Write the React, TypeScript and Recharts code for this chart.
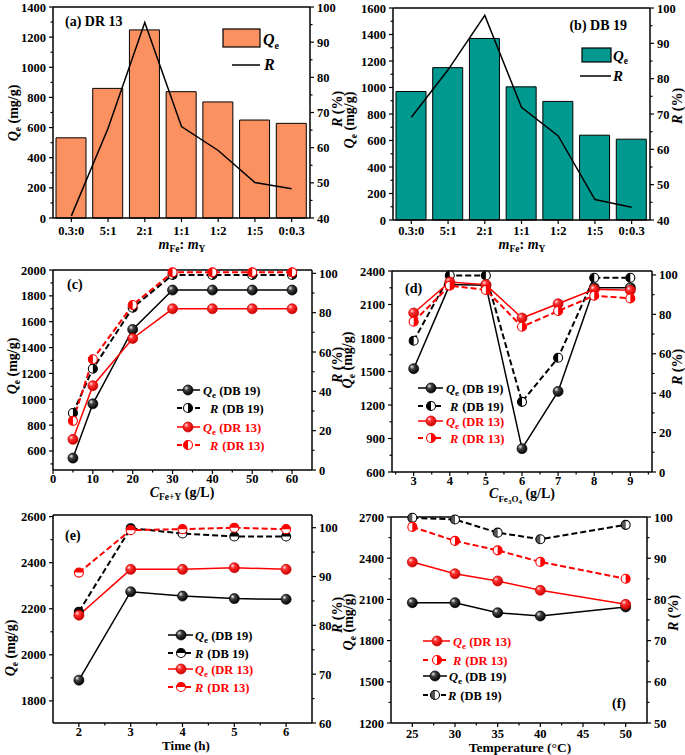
import React from 'react';
import { ComposedChart, Bar, Line, XAxis, YAxis, ReferenceLine } from 'recharts';

const FONT = '"Liberation Serif", "Times New Roman", serif';

// (a), (b) Fe:Y mass ratio
const ratioLabels = ['0.3:0', '5:1', '2:1', '1:1', '1:2', '1:5', '0:0.3'];
const qeRatioDR13 = [532, 860, 1248, 838, 770, 650, 628];
const rRatioDR13 = [40.6, 65.5, 95.6, 66, 59.2, 50.1, 48.3];
const qeRatioDB19 = [970, 1150, 1370, 1005, 895, 640, 610];
const rRatioDB19 = [69.1, 82.5, 97.9, 71.9, 63.8, 45.8, 43.6];

// (c) Fe+Y dosage
const doseFeY = [5, 10, 20, 30, 40, 50, 60];
const qeDoseDB19 = [545, 965, 1540, 1845, 1845, 1845, 1845];
const rDoseDB19 = [29, 51.5, 82.5, 99.2, 99.2, 99.2, 99.2];
const qeDoseDR13 = [690, 1105, 1470, 1700, 1700, 1700, 1700];
const rDoseDR13 = [25, 56.3, 83.9, 100.5, 100.5, 100.5, 100.5];

// (d) Fe3O4 dosage
const doseFe3O4 = [3, 4, 5, 6, 7, 8, 9];
const qeFeDB19 = [1525, 2278, 2272, 809, 1322, 2251, 2251];
const rFeDB19 = [66.6, 99.7, 99.7, 35.6, 58, 98.6, 98.6];
const qeFeDR13 = [2024, 2302, 2278, 1979, 2107, 2236, 2227];
const rFeDR13 = [76.3, 94.6, 92.4, 73.7, 81.7, 89.5, 88.1];

// (e) time
const timeH = [2, 3, 4, 5, 6];
const qeTimeDB19 = [1890, 2274, 2255, 2244, 2241];
const rTimeDB19 = [82.8, 99.9, 98.8, 98.2, 98.2];
const qeTimeDR13 = [2172, 2371, 2371, 2378, 2371];
const rTimeDR13 = [90.8, 99.5, 99.7, 100, 99.7];

// (f) temperature
const tempC = [25, 30, 35, 40, 50];
const qeTempDR13 = [2372, 2287, 2234, 2166, 2064];
const rTempDR13 = [97.6, 94.2, 91.9, 89.1, 85.0];
const qeTempDB19 = [2076, 2076, 2003, 1979, 2045];
const rTempDB19 = [99.8, 99.4, 96.2, 94.6, 98.1];

// tick labels
const qeTicksA = [0, 200, 400, 600, 800, 1000, 1200, 1400];
const qeTicksB = [0, 200, 400, 600, 800, 1000, 1200, 1400, 1600];
const rTicksAB = [40, 50, 60, 70, 80, 90, 100];
const qeTicksC = [600, 800, 1000, 1200, 1400, 1600, 1800, 2000];
const rTicksCD = [0, 20, 40, 60, 80, 100];
const xTicksC = [0, 10, 20, 30, 40, 50, 60];
const qeTicksD = [600, 900, 1200, 1500, 1800, 2100, 2400];
const xTicksD = [3, 4, 5, 6, 7, 8, 9];
const qeTicksE = [1800, 2000, 2200, 2400, 2600];
const rTicksE = [60, 70, 80, 90, 100];
const xTicksE = [2, 3, 4, 5, 6];
const qeTicksF = [1200, 1500, 1800, 2100, 2400, 2700];
const rTicksF = [50, 60, 70, 80, 90, 100];
const xTicksF = [25, 30, 35, 40, 45, 50];

const ORANGE = '#FB9161';
const TEAL = '#009990';
const RED = '#FF0000';

type Box = { x: number; y: number; w: number; h: number };
type Plot = { l: number; t: number; r: number; b: number };

const frame = (box: Box, plot: Plot) => ({
  margin: { top: plot.t - box.y, right: 0, bottom: 0, left: 0 },
  leftW: plot.l - box.x,
  rightW: box.x + box.w - plot.r,
  xH: box.y + box.h - plot.b,
  axL: plot.l - box.x,
  axR: plot.r - box.x,
  axB: plot.b - box.y,
});

const mids = (majors: number[], dom: number[]) => {
  const s = majors[1] - majors[0];
  return [majors[0] - s / 2, ...majors.map((m) => m + s / 2)].filter(
    (v) => v > dom[0] + 1e-9 && v < dom[1] - 1e-9
  );
};
const allTicks = (majors: number[], dom: number[]) =>
  [...majors, ...mids(majors, dom)].sort((a, b) => a - b);

const makeYTick = (axisX: number, side: 'left' | 'right', majors: number[]) => (p: any) => {
  const v = p.payload.value;
  const major = majors.includes(v);
  const d = side === 'left' ? -1 : 1;
  return (
    <g>
      <line x1={axisX} x2={axisX + d * (major ? 4 : 2.5)} y1={p.y} y2={p.y} stroke="#000" strokeWidth={1.2} />
      {major && (
        <text x={axisX + d * 7} y={p.y} dy="0.36em" textAnchor={side === 'left' ? 'end' : 'start'}
          fontFamily={FONT} fontWeight="bold" fontSize={12.5} fill="#000">{v}</text>
      )}
    </g>
  );
};

const makeXTick = (axisY: number, majors: number[] | null, gap: number) => (p: any) => {
  const v = p.payload.value;
  const major = majors === null || majors.includes(v);
  return (
    <g>
      <line x1={p.x} x2={p.x} y1={axisY} y2={axisY + (major ? 4 : 2.5)} stroke="#000" strokeWidth={1.2} />
      {major && (
        <text x={p.x} y={axisY + gap} dy="0.36em" textAnchor="middle"
          fontFamily={FONT} fontWeight="bold" fontSize={12.5} fill="#000">{v}</text>
      )}
    </g>
  );
};

function sphereMarker(cx: number, cy: number, grad: string, edge: string, key?: any) {
  return <circle key={key} cx={cx} cy={cy} r={5} fill={`url(#${grad})`} stroke={edge} strokeWidth={0.7} />;
}

function halfMarker(cx: number, cy: number, color: string, side: string, fillCol: string, key?: any) {
  const r = 4.5;
  let d = '';
  if (side === 'left') d = `M${cx},${cy - r} A${r},${r} 0 0 0 ${cx},${cy + r} Z`;
  else if (side === 'right') d = `M${cx},${cy - r} A${r},${r} 0 0 1 ${cx},${cy + r} Z`;
  else d = `M${cx - r},${cy} A${r},${r} 0 0 1 ${cx + r},${cy} Z`;
  return (
    <g key={key}>
      <circle cx={cx} cy={cy} r={r} fill="#fff" />
      <path d={d} fill={fillCol} />
      <circle cx={cx} cy={cy} r={r} fill="none" stroke={color} strokeWidth={1.1} />
    </g>
  );
}

const dotSphere = (grad: string, edge: string) => (p: any) =>
  sphereMarker(p.cx, p.cy, grad, edge, p.index);
const dotHalf = (color: string, side: string, fillCol: string) => (p: any) =>
  halfMarker(p.cx, p.cy, color, side, fillCol, p.index);

const axisLine = { stroke: '#000', strokeWidth: 1.5 };

function BarPanel({ box, plot, qe, r, color, qeTicks, gap }: any) {
  const f = frame(box, plot);
  const data = ratioLabels.map((c, i) => ({ cat: c, qe: qe[i], r: r[i] }));
  const lDom = [0, qeTicks[qeTicks.length - 1]];
  const rDom = [40, 100];
  return (
    <div style={{ position: 'absolute', left: box.x, top: box.y }}>
      <ComposedChart width={box.w} height={box.h} data={data} margin={f.margin}>
        <XAxis dataKey="cat" height={f.xH} tickLine={false} axisLine={axisLine} interval={0}
          tick={makeXTick(f.axB, null, gap)} />
        <YAxis yAxisId="left" width={f.leftW} domain={lDom} ticks={allTicks(qeTicks, lDom)} interval={0}
          tickLine={false} axisLine={axisLine} tick={makeYTick(f.axL, 'left', qeTicks)} />
        <YAxis yAxisId="right" orientation="right" width={f.rightW} domain={rDom}
          ticks={allTicks(rTicksAB, rDom)} interval={0} tickLine={false} axisLine={axisLine}
          tick={makeYTick(f.axR, 'right', rTicksAB)} />
        <ReferenceLine yAxisId="left" y={lDom[1]} stroke="#000" strokeWidth={1.5} />
        <Bar yAxisId="left" dataKey="qe" fill={color} stroke="#000" strokeWidth={1} barSize={30}
          isAnimationActive={false} />
        <Line yAxisId="right" dataKey="r" type="linear" stroke="#000" strokeWidth={1.5} dot={false}
          activeDot={false} isAnimationActive={false} />
      </ComposedChart>
    </div>
  );
}

type Series = { key: string; values: number[]; axis: string; color: string; dashed?: boolean; dot: any };

function LinePanel({ box, plot, xs, xDom, xTicks, lDom, lTicks, rDom, rTicks, series, gap }: any) {
  const f = frame(box, plot);
  const data = xs.map((x: number, i: number) => {
    const row: any = { x };
    (series as Series[]).forEach((s) => (row[s.key] = s.values[i]));
    return row;
  });
  return (
    <div style={{ position: 'absolute', left: box.x, top: box.y }}>
      <ComposedChart width={box.w} height={box.h} data={data} margin={f.margin}>
        <XAxis dataKey="x" type="number" domain={xDom} ticks={allTicks(xTicks, xDom)} interval={0}
          height={f.xH} tickLine={false} axisLine={axisLine} tick={makeXTick(f.axB, xTicks, gap)} />
        <YAxis yAxisId="left" width={f.leftW} domain={lDom} ticks={allTicks(lTicks, lDom)} interval={0}
          tickLine={false} axisLine={axisLine} tick={makeYTick(f.axL, 'left', lTicks)} />
        <YAxis yAxisId="right" orientation="right" width={f.rightW} domain={rDom}
          ticks={allTicks(rTicks, rDom)} interval={0} tickLine={false} axisLine={axisLine}
          tick={makeYTick(f.axR, 'right', rTicks)} />
        <ReferenceLine yAxisId="left" y={lDom[1]} stroke="#000" strokeWidth={1.5} />
        {(series as Series[]).map((s) => (
          <Line key={s.key} yAxisId={s.axis} dataKey={s.key} type="linear" stroke={s.color}
            strokeWidth={s.dashed ? 2 : 1.5} strokeDasharray={s.dashed ? '6 3' : undefined}
            dot={s.dot} activeDot={false} isAnimationActive={false} />
        ))}
      </ComposedChart>
    </div>
  );
}

const txt = { fontFamily: FONT, fontWeight: 'bold' as const, fill: '#000' };

function QeTitle({ x, y }: { x: number; y: number }) {
  return (
    <text x={x} y={y} transform={`rotate(-90 ${x} ${y})`} textAnchor="middle" fontSize={14} {...txt}>
      <tspan fontStyle="italic">Q</tspan>
      <tspan fontSize={9.5} dy={3}>e</tspan>
      <tspan dy={-3}> (mg/g)</tspan>
    </text>
  );
}

function RTitle({ x, y }: { x: number; y: number }) {
  return (
    <text x={x} y={y} transform={`rotate(-90 ${x} ${y})`} textAnchor="middle" fontSize={14} {...txt}>
      <tspan fontStyle="italic">R</tspan>
      <tspan> (%)</tspan>
    </text>
  );
}

function LegendRow({ y, x1, x2, mx, tx, color, kind, side, fillCol, label, q }: any) {
  return (
    <g>
      <line x1={x1} x2={x2} y1={y} y2={y} stroke={color} strokeWidth={kind === 'q' ? 1.5 : 2}
        strokeDasharray={kind === 'q' ? undefined : '5 4'} />
      {kind === 'q'
        ? sphereMarker(mx, y, color === RED ? 'gRed' : 'gBlack', color === RED ? '#c00' : '#000')
        : halfMarker(mx, y, color, side, fillCol)}
      <text x={tx} y={y + 4.5} fontSize={12.5} fontFamily={FONT} fontWeight="bold" fill={color}>
        {q ? (
          <>
            <tspan fontStyle="italic">Q</tspan>
            <tspan fontSize={9} dy={3}>e</tspan>
            <tspan dy={-3}> {label}</tspan>
          </>
        ) : (
          <>
            <tspan fontStyle="italic">R</tspan>
            <tspan dx={4}>{label}</tspan>
          </>
        )}
      </text>
    </g>
  );
}

function Overlay() {
  return (
    <svg width={685} height={755} style={{ position: 'absolute', left: 0, top: 0, pointerEvents: 'none' }}>
      <defs>
        <radialGradient id="gBlack" cx="38%" cy="35%" r="65%" fx="32%" fy="30%">
          <stop offset="0%" stopColor="#f4f4f4" />
          <stop offset="35%" stopColor="#444" />
          <stop offset="100%" stopColor="#000" />
        </radialGradient>
        <radialGradient id="gRed" cx="38%" cy="35%" r="65%" fx="32%" fy="30%">
          <stop offset="0%" stopColor="#ffe4e4" />
          <stop offset="35%" stopColor="#ff3030" />
          <stop offset="100%" stopColor="#cc0000" />
        </radialGradient>
      </defs>

      {/* (a) */}
      <text x={65} y={26} fontSize={14} {...txt}>(a) DR 13</text>
      <rect x={223} y={29} width={37} height={18} fill={ORANGE} stroke="#000" strokeWidth={1.2} />
      <text x={263} y={45} fontSize={16} {...txt}>
        <tspan fontStyle="italic">Q</tspan><tspan fontSize={10} dy={4}>e</tspan>
      </text>
      <line x1={232} x2={260} y1={65} y2={65} stroke="#000" strokeWidth={1.5} />
      <text x={264} y={70} fontSize={16} fontStyle="italic" {...txt}>R</text>
      <QeTitle x={18} y={113} />
      <RTitle x={342} y={109} />
      <text x={182} y={249} textAnchor="middle" fontSize={14} {...txt}>
        <tspan fontStyle="italic">m</tspan><tspan fontSize={9.5} dy={3}>Fe</tspan>
        <tspan dy={-3}>: </tspan><tspan fontStyle="italic">m</tspan><tspan fontSize={9.5} dy={3}>Y</tspan>
      </text>

      {/* (b) */}
      <text x={627} y={30} textAnchor="end" fontSize={14} {...txt}>(b) DB 19</text>
      <rect x={582} y={48} width={29} height={14} fill={TEAL} stroke="#000" strokeWidth={1.2} />
      <text x={613} y={61} fontSize={15} {...txt}>
        <tspan fontStyle="italic">Q</tspan><tspan fontSize={9.5} dy={3}>e</tspan>
      </text>
      <line x1={580} x2={611} y1={76} y2={76} stroke="#000" strokeWidth={1.5} />
      <text x={613} y={81} fontSize={15} fontStyle="italic" {...txt}>R</text>
      <QeTitle x={354} y={120} />
      <RTitle x={682} y={106} />
      <text x={522} y={249} textAnchor="middle" fontSize={14} {...txt}>
        <tspan fontStyle="italic">m</tspan><tspan fontSize={9.5} dy={3}>Fe</tspan>
        <tspan dy={-3}>: </tspan><tspan fontStyle="italic">m</tspan><tspan fontSize={9.5} dy={3}>Y</tspan>
      </text>

      {/* (c) */}
      <text x={67} y={289} fontSize={14} {...txt}>(c)</text>
      <QeTitle x={17} y={366} />
      <RTitle x={342} y={365} />
      <text x={182} y={497} textAnchor="middle" fontSize={14} {...txt}>
        <tspan fontStyle="italic">C</tspan><tspan fontSize={9.5} dy={3}>Fe+Y</tspan>
        <tspan dy={-3}> (g/L)</tspan>
      </text>
      <LegendRow y={390} x1={177} x2={200} mx={188} tx={203} color="#000" kind="q" q label="(DB 19)" />
      <LegendRow y={408} x1={177} x2={200} mx={188} tx={210} color="#000" kind="r" side="right" fillCol="#000" label="(DB 19)" />
      <LegendRow y={427} x1={177} x2={200} mx={188} tx={203} color={RED} kind="q" q label="(DR 13)" />
      <LegendRow y={445} x1={177} x2={200} mx={188} tx={210} color={RED} kind="r" side="left" fillCol={RED} label="(DR 13)" />

      {/* (d) */}
      <text x={405} y={293} fontSize={14} {...txt}>(d)</text>
      <QeTitle x={352} y={360} />
      <RTitle x={682} y={367} />
      <text x={522} y={498} textAnchor="middle" fontSize={14} {...txt}>
        <tspan fontStyle="italic">C</tspan><tspan fontSize={9} dy={4}>Fe</tspan><tspan fontSize={7} dy={2}>3</tspan>
        <tspan fontSize={9} dy={-2}>O</tspan><tspan fontSize={7} dy={2}>4</tspan>
        <tspan dy={-6}> (g/L)</tspan>
      </text>
      <LegendRow y={388} x1={418} x2={443} mx={431} tx={446} color="#000" kind="q" q label="(DB 19)" />
      <LegendRow y={406} x1={418} x2={443} mx={431} tx={450} color="#000" kind="r" side="left" fillCol="#000" label="(DB 19)" />
      <LegendRow y={421} x1={418} x2={443} mx={431} tx={446} color={RED} kind="q" q label="(DR 13)" />
      <LegendRow y={438} x1={418} x2={443} mx={431} tx={450} color={RED} kind="r" side="right" fillCol={RED} label="(DR 13)" />

      {/* (e) */}
      <text x={65} y={540} fontSize={14} {...txt}>(e)</text>
      <QeTitle x={15} y={648} />
      <RTitle x={342} y={615} />
      <text x={186} y={750} textAnchor="middle" fontSize={13} {...txt}>Time (h)</text>
      <LegendRow y={635} x1={168} x2={193} mx={181} tx={195} color="#000" kind="q" q label="(DB 19)" />
      <LegendRow y={653} x1={168} x2={193} mx={181} tx={195} color="#000" kind="r" side="top" fillCol="#000" label="(DB 19)" />
      <LegendRow y={669} x1={168} x2={193} mx={181} tx={195} color={RED} kind="q" q label="(DR 13)" />
      <LegendRow y={687} x1={168} x2={193} mx={181} tx={195} color={RED} kind="r" side="top" fillCol={RED} label="(DR 13)" />

      {/* (f) */}
      <text x={612} y={708} fontSize={14} {...txt}>(f)</text>
      <QeTitle x={353} y={622} />
      <RTitle x={678} y={613} />
      <text x={520} y={752} textAnchor="middle" fontSize={13.5} {...txt}>Temperature (°C)</text>
      <LegendRow y={641} x1={423} x2={450} mx={437} tx={453} color={RED} kind="q" q label="(DR 13)" />
      <LegendRow y={660} x1={423} x2={450} mx={437} tx={453} color={RED} kind="r" side="right" fillCol={RED} label="(DR 13)" />
      <LegendRow y={676} x1={423} x2={447} mx={435} tx={449} color="#000" kind="q" q label="(DB 19)" />
      <LegendRow y={695} x1={423} x2={447} mx={435} tx={448} color="#000" kind="r" side="left" fillCol="#555" label="(DB 19)" />
    </svg>
  );
}

export default function App() {
  const blackQ = dotSphere('gBlack', '#000');
  const redQ = dotSphere('gRed', '#c00');
  return (
    <div style={{ position: 'absolute', left: 0, top: 0, width: 685, height: 755, background: '#fff', fontFamily: FONT }}>
      <BarPanel box={{ x: 0, y: 0, w: 342, h: 255 }} plot={{ l: 53, t: 7, r: 310, b: 218 }}
        qe={qeRatioDR13} r={rRatioDR13} color={ORANGE} qeTicks={qeTicksA} gap={12} />
      <BarPanel box={{ x: 342, y: 0, w: 343, h: 255 }} plot={{ l: 393, t: 8, r: 650, b: 220 }}
        qe={qeRatioDB19} r={rRatioDB19} color={TEAL} qeTicks={qeTicksB} gap={10.5} />
      <LinePanel box={{ x: 0, y: 255, w: 342, h: 250 }} plot={{ l: 53, t: 270, r: 312, b: 470 }}
        xs={doseFeY} xDom={[0, 65]} xTicks={xTicksC} lDom={[453, 2000]} lTicks={qeTicksC}
        rDom={[0, 101.7]} rTicks={rTicksCD} gap={8.5}
        series={[
          { key: 'qeDB', values: qeDoseDB19, axis: 'left', color: '#000', dot: blackQ },
          { key: 'rDB', values: rDoseDB19, axis: 'right', color: '#000', dashed: true, dot: dotHalf('#000', 'right', '#000') },
          { key: 'qeDR', values: qeDoseDR13, axis: 'left', color: RED, dot: redQ },
          { key: 'rDR', values: rDoseDR13, axis: 'right', color: RED, dashed: true, dot: dotHalf(RED, 'left', RED) },
        ]} />
      <LinePanel box={{ x: 342, y: 255, w: 343, h: 250 }} plot={{ l: 392, t: 271, r: 652, b: 472 }}
        xs={doseFe3O4} xDom={[2.4, 9.6]} xTicks={xTicksD} lDom={[600, 2400]} lTicks={qeTicksD}
        rDom={[0, 102]} rTicks={rTicksCD} gap={8}
        series={[
          { key: 'qeDB', values: qeFeDB19, axis: 'left', color: '#000', dot: blackQ },
          { key: 'rDB', values: rFeDB19, axis: 'right', color: '#000', dashed: true, dot: dotHalf('#000', 'left', '#000') },
          { key: 'qeDR', values: qeFeDR13, axis: 'left', color: RED, dot: redQ },
          { key: 'rDR', values: rFeDR13, axis: 'right', color: RED, dashed: true, dot: dotHalf(RED, 'right', RED) },
        ]} />
      <LinePanel box={{ x: 0, y: 505, w: 342, h: 250 }} plot={{ l: 53, t: 515, r: 312, b: 723 }}
        xs={timeH} xDom={[1.5, 6.5]} xTicks={xTicksE} lDom={[1704, 2607]} lTicks={qeTicksE}
        rDom={[60, 102.6]} rTicks={rTicksE} gap={8}
        series={[
          { key: 'qeDB', values: qeTimeDB19, axis: 'left', color: '#000', dot: blackQ },
          { key: 'rDB', values: rTimeDB19, axis: 'right', color: '#000', dashed: true, dot: dotHalf('#000', 'top', '#000') },
          { key: 'qeDR', values: qeTimeDR13, axis: 'left', color: RED, dot: redQ },
          { key: 'rDR', values: rTimeDR13, axis: 'right', color: RED, dashed: true, dot: dotHalf(RED, 'top', RED) },
        ]} />
      <LinePanel box={{ x: 342, y: 505, w: 343, h: 250 }} plot={{ l: 391, t: 517, r: 647, b: 723 }}
        xs={tempC} xDom={[22.5, 52.5]} xTicks={xTicksF} lDom={[1200, 2700]} lTicks={qeTicksF}
        rDom={[50, 100]} rTicks={rTicksF} gap={10}
        series={[
          { key: 'rDB', values: rTempDB19, axis: 'right', color: '#000', dashed: true, dot: dotHalf('#000', 'left', '#555') },
          { key: 'qeDB', values: qeTempDB19, axis: 'left', color: '#000', dot: blackQ },
          { key: 'rDR', values: rTempDR13, axis: 'right', color: RED, dashed: true, dot: dotHalf(RED, 'right', RED) },
          { key: 'qeDR', values: qeTempDR13, axis: 'left', color: RED, dot: redQ },
        ]} />
      <Overlay />
    </div>
  );
}
